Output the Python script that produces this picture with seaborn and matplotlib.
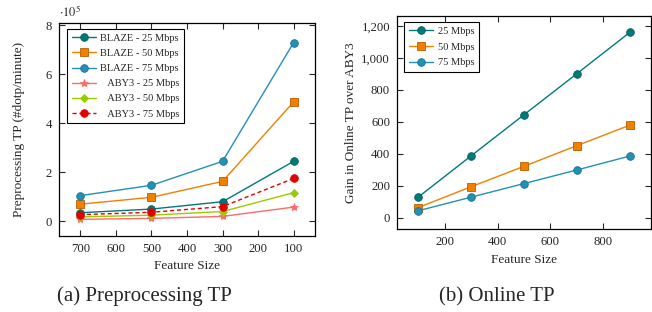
import pandas as pd
import matplotlib
matplotlib.use("Agg")
import matplotlib.pyplot as plt
import seaborn as sns
from matplotlib.ticker import FuncFormatter

# ---- data (left: preprocessing throughput, in units of 1e5) ----
feature_sizes = [700, 500, 300, 100]
blaze_25 = [0.35, 0.50, 0.80, 2.45]
blaze_50 = [0.70, 0.98, 1.63, 4.88]
blaze_75 = [1.05, 1.47, 2.45, 7.30]
aby3_25 = [0.08, 0.12, 0.20, 0.58]
aby3_50 = [0.18, 0.25, 0.40, 1.17]
aby3_75 = [0.27, 0.37, 0.60, 1.75]

# ---- data (right: online gain over ABY3) ----
online_sizes = [100, 300, 500, 700, 900]
gain_25 = [130, 388, 645, 902, 1160]
gain_50 = [65, 195, 323, 452, 580]
gain_75 = [45, 130, 215, 300, 387]

sns.set_style("ticks")
plt.rcParams["font.family"] = ["Liberation Serif", "DejaVu Serif"]
plt.rcParams["mathtext.fontset"] = "stix"
plt.rcParams["axes.linewidth"] = 0.9

TEAL = "#007a78"
ORANGE = "#f08000"
BLUE = "#2390b6"
PINK = "#ff6a6a"
LIME = "#9acb00"
RED = "#e30000"

fig = plt.figure(figsize=(6.52, 3.12), dpi=100)
ax1 = fig.add_axes([0.0905, 0.2436, 0.3926, 0.6827])
ax2 = fig.add_axes([0.6089, 0.266, 0.3896, 0.6827])

left = pd.DataFrame({"size": feature_sizes})
series = [
    ("BLAZE - 25 Mbps", blaze_25, TEAL, "o", "-", "#005f5d"),
    ("BLAZE - 50 Mbps", blaze_50, ORANGE, "s", "-", "#b85e00"),
    ("BLAZE - 75 Mbps", blaze_75, BLUE, "o", "-", "#1a7190"),
    ("ABY3 - 25 Mbps", aby3_25, PINK, "*", "-", PINK),
    ("ABY3 - 50 Mbps", aby3_50, LIME, "D", "-", LIME),
    ("ABY3 - 75 Mbps", aby3_75, RED, "o", (0, (3, 2)), RED),
]
for label, vals, color, mk, ls, ec in series:
    left[label] = vals
    ms = 5.5
    if mk == "*":
        ms = 6
    if mk == "D":
        ms = 3.8
    sns.lineplot(data=left, x="size", y=label, ax=ax1, color=color, marker=mk,
                 markersize=ms, markeredgecolor=ec, markeredgewidth=0.6,
                 linewidth=1.0, linestyle=ls, label=label)

ax1.set_xlim(760, 40)
ax1.set_ylim(-0.6, 8.1)
ax1.set_xticks([700, 600, 500, 400, 300, 200, 100])
ax1.set_yticks([0, 2, 4, 6, 8])
ax1.set_xlabel("Feature Size", fontsize=9.5, labelpad=4)
ax1.set_ylabel("Preprocessing TP (#dotp/minute)", fontsize=9.5, labelpad=15)
ax1.text(0.0, 1.015, r"$\cdot10^5$", transform=ax1.transAxes, fontsize=9,
         ha="left", va="bottom")
handles, labels = ax1.get_legend_handles_labels()
labels = [l if l.startswith("BLAZE") else "   " + l for l in labels]
leg1 = ax1.legend(handles, labels, loc="upper left", bbox_to_anchor=(0.031, 0.972),
                  borderaxespad=0, fontsize=7.5, frameon=True, fancybox=False,
                  edgecolor="black", framealpha=1, handlelength=2.3,
                  labelspacing=0.56, borderpad=0.45, handletextpad=0.45)
leg1.get_frame().set_linewidth(0.8)

right = pd.DataFrame({"size": online_sizes, "25 Mbps": gain_25,
                      "50 Mbps": gain_50, "75 Mbps": gain_75})
for label, color, mk, ec in [("25 Mbps", TEAL, "o", "#005f5d"),
                             ("50 Mbps", ORANGE, "s", "#b85e00"),
                             ("75 Mbps", BLUE, "o", "#1a7190")]:
    sns.lineplot(data=right, x="size", y=label, ax=ax2, color=color, marker=mk,
                 markersize=5.5, markeredgecolor=ec, markeredgewidth=0.6,
                 linewidth=1.0, label=label)

ax2.set_xlim(20, 980)
ax2.set_ylim(-69, 1262)
ax2.set_xticks([200, 400, 600, 800])
ax2.set_yticks([0, 200, 400, 600, 800, 1000, 1200])
ax2.yaxis.set_major_formatter(FuncFormatter(lambda v, p: f"{int(v):,}"))
ax2.set_xlabel("Feature Size", fontsize=9.5, labelpad=4)
ax2.set_ylabel("Gain in Online TP over ABY3", fontsize=9.5, labelpad=3)
leg2 = ax2.legend(loc="upper left", bbox_to_anchor=(0.028, 0.972),
                  borderaxespad=0, fontsize=7.5, frameon=True, fancybox=False,
                  edgecolor="black", framealpha=1, handlelength=2.3,
                  labelspacing=0.62, borderpad=0.45, handletextpad=0.5)
leg2.get_frame().set_linewidth(0.8)

for ax in (ax1, ax2):
    ax.tick_params(which="both", direction="in", top=True, right=True,
                   labelsize=9.2, length=4, width=0.8, pad=5)
    for s in ax.spines.values():
        s.set_visible(True)
        s.set_color("black")

fig.text(0.221, 0.035, "(a) Preprocessing TP", fontsize=15, ha="center")
fig.text(0.762, 0.035, "(b) Online TP", fontsize=15, ha="center")

fig.savefig("out.png", dpi=100)
